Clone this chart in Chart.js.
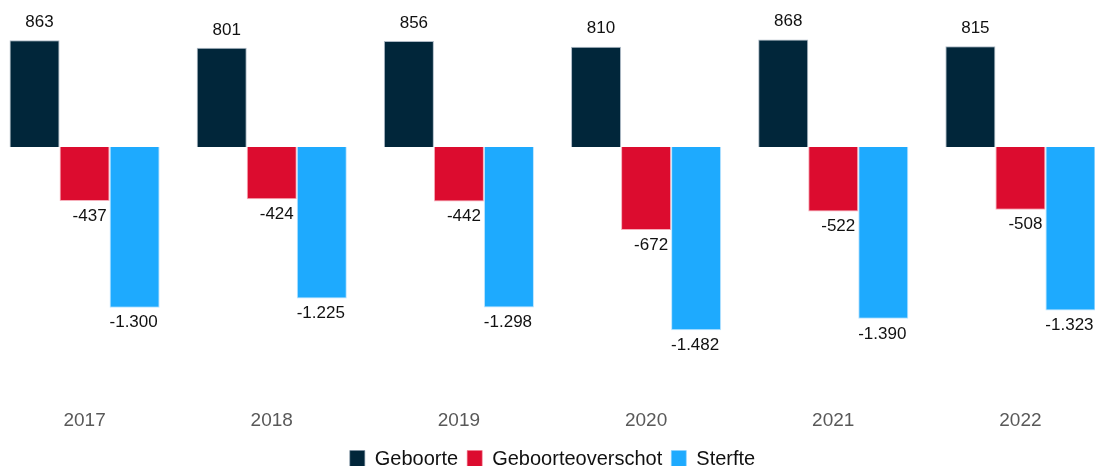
<!DOCTYPE html>
<html>
<head>
<meta charset="utf-8">
<script src="https://cdn.jsdelivr.net/npm/chart.js@4"></script>
<style>
  html, body { margin: 0; padding: 0; background: #fff; overflow: hidden; }
  #wrap { position: absolute; left: -9px; top: 0; width: 1123px; height: 479px; }
</style>
</head>
<body>
<div id="wrap"><canvas id="chart"></canvas></div>
<script>
const years = ['2017', '2018', '2019', '2020', '2021', '2022'];
const geboorte = [863, 801, 856, 810, 868, 815];
const geboorteoverschot = [-437, -424, -442, -672, -522, -508];
const sterfte = [-1300, -1225, -1298, -1482, -1390, -1323];

Chart.defaults.font.family = '"Liberation Sans", Arial, sans-serif';

// value labels above / below each bar (no datalabels plugin available)
const valueLabels = {
    id: 'valueLabels',
    afterDatasetsDraw(chart) {
        const ctx = chart.ctx;
        const fmt = new Intl.NumberFormat('nl-NL');
        ctx.save();
        ctx.font = '17px "Liberation Sans", Arial, sans-serif';
        ctx.fillStyle = '#111';
        ctx.textAlign = 'center';
        ctx.textBaseline = 'middle';
        chart.data.datasets.forEach(function(ds, i) {
            const meta = chart.getDatasetMeta(i);
            const shift = i < 2 ? 5 : -1;
            meta.data.forEach(function(bar, j) {
                const v = ds.data[j];
                const y = v >= 0 ? bar.y - 18 : bar.y + 15;
                ctx.fillText(fmt.format(v), bar.x + shift, y);
            });
        });
        ctx.restore();
    }
};

const ctx = document.getElementById('chart').getContext('2d');
new Chart(ctx, {
    type: 'bar',
    data: {
        labels: years,
        datasets: [
            {
                label: 'Geboorte',
                data: geboorte,
                backgroundColor: '#01263A',
                borderColor: 'rgba(120,140,160,0.6)',
                borderWidth: 1
            },
            {
                label: 'Geboorteoverschot',
                data: geboorteoverschot,
                backgroundColor: '#DC0C2F',
                borderColor: 'rgba(240,120,140,0.6)',
                borderWidth: 1
            },
            {
                label: 'Sterfte',
                data: sterfte,
                backgroundColor: '#1EAAFE',
                borderColor: 'rgba(140,210,255,0.6)',
                borderWidth: 1
            }
        ]
    },
    options: {
        responsive: true,
        maintainAspectRatio: false,
        animation: false,
        layout: { padding: { top: 0, bottom: 0 } },
        datasets: {
            bar: { categoryPercentage: 0.802, barPercentage: 1.0 }
        },
        scales: {
            x: {
                grid: { display: false },
                border: { display: false },
                ticks: {
                    color: '#595959',
                    font: { size: 19, lineHeight: 1.71 },
                    padding: 3
                }
            },
            y: {
                display: false,
                min: -1994,
                max: 1188
            }
        },
        plugins: {
            legend: {
                position: 'bottom',
                labels: {
                    color: '#111',
                    font: { size: 20 },
                    boxWidth: 15,
                    boxHeight: 17,
                    padding: 9
                }
            },
            tooltip: { enabled: false }
        }
    },
    plugins: [valueLabels]
});
</script>
</body>
</html>
